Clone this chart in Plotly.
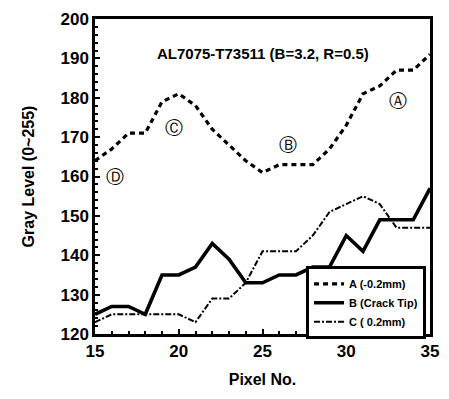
import plotly.graph_objects as go

pixels = list(range(15, 36))
series_a = [164, 167, 171, 171, 179, 181, 178, 172, 168, 164, 161, 163, 163, 163, 167, 173, 181, 183, 187, 187, 191]
series_b = [125, 127, 127, 125, 135, 135, 137, 143, 139, 133, 133, 135, 135, 137, 137, 145, 141, 149, 149, 149, 157]
series_c = [123, 125, 125, 125, 125, 125, 123, 129, 129, 133, 141, 141, 141, 145, 151, 153, 155, 153, 147, 147, 147]
names = ["A (-0.2mm)", "B (Crack Tip)", "C ( 0.2mm)"]
labels = ["Ⓐ", "Ⓑ", "Ⓒ", "Ⓓ"]
label_x = [33.1, 26.5, 19.7, 16.2]
label_y = [179.3, 168.2, 172.5, 160.0]

fnt = "Liberation Sans, Arial, sans-serif"
fig = go.Figure()
fig.add_trace(go.Scatter(x=pixels, y=series_a, mode="lines", name=names[0],
                         line=dict(color="black", width=3.2, dash="5px,4px")))
fig.add_trace(go.Scatter(x=pixels, y=series_b, mode="lines", name=names[1],
                         line=dict(color="black", width=3.6)))
fig.add_trace(go.Scatter(x=pixels, y=series_c, mode="lines", name=names[2],
                         line=dict(color="black", width=2, dash="6px,2px,2px,2px")))

for t, xx, yy in zip(labels, label_x, label_y):
    fig.add_annotation(x=xx, y=yy, text=t, showarrow=False,
                       font=dict(size=18, color="black", family="DejaVu Sans"))

fig.add_annotation(x=0.5, y=0.89, xref="paper", yref="paper", yanchor="middle",
                   text="AL7075-T73511 (B=3.2, R=0.5)", showarrow=False,
                   font=dict(size=15, color="black", family=fnt, weight="bold"))

axis_common = dict(showgrid=False, zeroline=False, showline=True, linecolor="black",
                   linewidth=2.5, mirror=True, ticks="inside", ticklen=5,
                   tickcolor="black", tickwidth=1.5,
                   tickfont=dict(size=17, color="black", family=fnt, weight="bold"))
fig.update_xaxes(range=[15, 35], tickvals=[15, 20, 25, 30, 35],
                 minor=dict(dtick=1, ticks="inside", ticklen=3, tickcolor="black"),
                 title=dict(text="Pixel No.", font=dict(size=16, color="black", family=fnt, weight="bold"), standoff=14),
                 **axis_common)
fig.update_yaxes(range=[120, 200], dtick=10,
                 minor=dict(dtick=2, ticks="inside", ticklen=3, tickcolor="black"),
                 title=dict(text="Gray Level (0~255)", font=dict(size=16, color="black", family=fnt, weight="bold"), standoff=22),
                 **axis_common)
fig.update_layout(
    width=449, height=399,
    margin=dict(l=95, r=16, t=10, b=65),
    plot_bgcolor="white", paper_bgcolor="white",
    font=dict(family=fnt, color="black"),
    legend=dict(x=0.63, y=0.215, xanchor="left", yanchor="top",
                bgcolor="white", bordercolor="black", borderwidth=3,
                font=dict(size=11, color="black", family=fnt, weight="bold"),
                itemwidth=30, tracegroupgap=0),
)
fig.write_html("out.html")
